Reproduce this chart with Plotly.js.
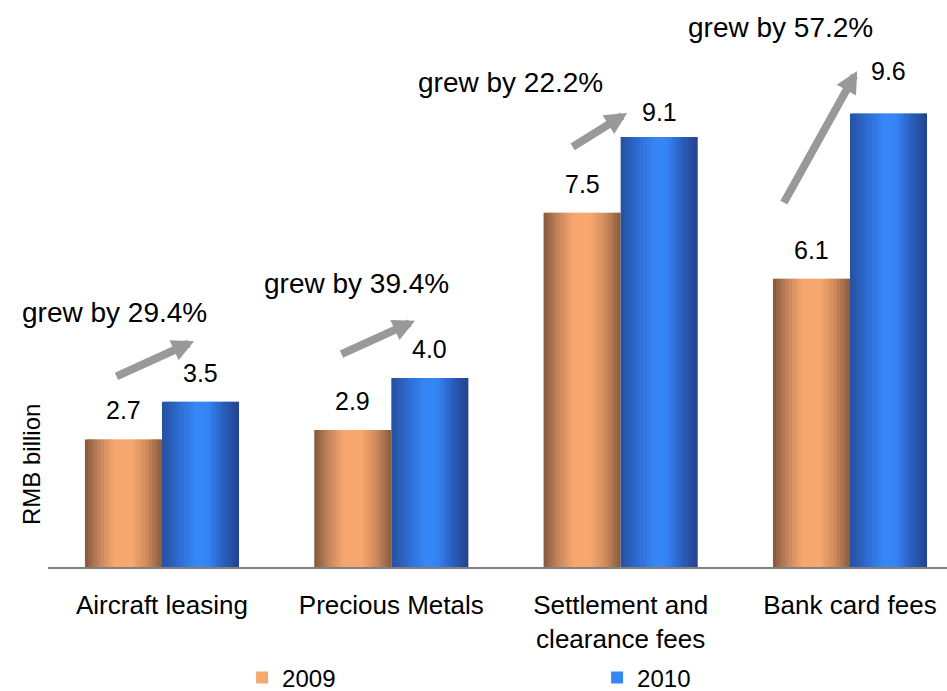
<!DOCTYPE html>
<html>
<head>
<meta charset="utf-8">
<script src="https://cdn.plot.ly/plotly-3.0.1.min.js"></script>
<style>html,body{margin:0;padding:0;background:#fff;}#chart{width:947px;height:691px;}</style>
</head>
<body>
<div id="chart"></div>
<script>
// ---- data ----
const categories = ['Aircraft leasing', 'Precious Metals', 'Settlement and<br>clearance fees', 'Bank card fees'];
const seriesNames = ['2009', '2010'];
const values2009 = [2.7, 2.9, 7.5, 6.1];
const values2010 = [3.5, 4.0, 9.1, 9.6];
const growthLabels = ['grew by 29.4%', 'grew by 39.4%', 'grew by 22.2%', 'grew by 57.2%'];

// ---- annotation placement (data units, relative to category index) ----
const arrowTailDx = [-0.205, -0.224, -0.216, -0.292];
const arrowTailY  = [4.02, 4.49, 8.87, 7.68];
const arrowTipDx  = [0.140, 0.103, 0.028, 0.031];
const arrowTipY   = [4.78, 5.21, 9.61, 10.50];
const growthDx    = [-0.209, -0.154, -0.482, -0.305];
const growthY     = [5.38, 6.0, 10.25, 11.42];
const labelLift   = [29, 29, 29, 29];
const labelLift10 = [29, 29, 25, 42];

// ---- styles ----
const FONT = 'Liberation Sans, Arial, sans-serif';
const BARW = 0.336;
const PX_PER_CAT = 229.3;
const NSTRIPE = 24;
const orangeStops = [[0,'#85573a'],[0.18,'#c2845b'],[0.38,'#f6a66e'],[0.6,'#f8a96f'],[0.8,'#d08c5d'],[1,'#875a3b']];
const blueStops   = [[0,'#26509e'],[0.2,'#2d69cd'],[0.45,'#3787f8'],[0.6,'#3584f4'],[0.8,'#2a5ebd'],[1,'#21438a']];

function hex2rgb(h){return [parseInt(h.slice(1,3),16),parseInt(h.slice(3,5),16),parseInt(h.slice(5,7),16)];}
function gradColor(stops, t){
  for(let i=1;i<stops.length;i++){
    if(t<=stops[i][0]){
      const a=stops[i-1], b=stops[i];
      const f=(t-a[0])/(b[0]-a[0]);
      const ca=hex2rgb(a[1]), cb=hex2rgb(b[1]);
      return 'rgb('+ca.map((v,k)=>Math.round(v+(cb[k]-v)*f)).join(',')+')';
    }
  }
  return stops[stops.length-1][1];
}

const traces = [];
function addSeries(vals, name, stops, baseOffset){
  const sw = BARW / NSTRIPE;
  for(let k=0;k<NSTRIPE;k++){
    const t = (k+0.5)/NSTRIPE;
    const isLegend = (k === Math.floor(NSTRIPE/2));
    traces.push({
      type:'bar', x: categories, y: vals, name: name,
      offset: baseOffset + k*sw,
      width: (k === NSTRIPE-1) ? sw : sw*1.6,
      marker:{color: gradColor(stops, t), line:{width:0}},
      showlegend: isLegend, legendgroup: name, hoverinfo:'skip'
    });
  }
}
addSeries(values2009, seriesNames[0], orangeStops, -BARW);
addSeries(values2010, seriesNames[1], blueStops, 0);

const annotations = [];
categories.forEach((c,i)=>{
  annotations.push({x:c, y:values2009[i], xshift:-BARW/2*PX_PER_CAT, yshift:labelLift[i], text:values2009[i].toFixed(1),
    showarrow:false, xanchor:'center', yanchor:'middle', font:{family:FONT,size:25,color:'#000'}});
  annotations.push({x:c, y:values2010[i], xshift:BARW/2*PX_PER_CAT, yshift:labelLift10[i], text:values2010[i].toFixed(1),
    showarrow:false, xanchor:'center', yanchor:'middle', font:{family:FONT,size:25,color:'#000'}});
  annotations.push({x:i+arrowTipDx[i], y:arrowTipY[i], ax:i+arrowTailDx[i], ay:arrowTailY[i],
    axref:'x', ayref:'y', xref:'x', yref:'y', text:'', showarrow:true,
    arrowhead:2, arrowsize:0.55, arrowwidth:8, arrowcolor:'#999999', standoff:0, startstandoff:0});
  annotations.push({x:i+growthDx[i], y:growthY[i], xref:'x', yref:'y', text:growthLabels[i], showarrow:false,
    xanchor:'center', yanchor:'middle', font:{family:FONT,size:28,color:'#000'}});
});
annotations.push({xref:'paper', yref:'paper', x:-0.0178, y:0.1817, text:'RMB billion', textangle:-90,
  showarrow:false, xanchor:'center', yanchor:'middle', font:{family:FONT,size:24,color:'#000'}});

const layout = {
  width:947, height:691,
  margin:{l:48, r:0, t:0, b:124, autoexpand:false},
  paper_bgcolor:'#fff', plot_bgcolor:'#fff',
  barmode:'overlay',
  font:{family:FONT, color:'#000'},
  xaxis:{type:'category', range:[-0.497, 3.423], showgrid:false, zeroline:false, automargin:false,
    showline:true, linecolor:'#808080', linewidth:1.5, ticks:'', ticklabelstandoff:14,
    tickfont:{family:FONT,size:26,color:'#000'}, fixedrange:true},
  yaxis:{range:[0,12.0], showgrid:false, zeroline:false, showline:false, showticklabels:false, ticks:'', fixedrange:true, automargin:false},
  showlegend:true,
  legend:{orientation:'h', x:0.2159, xanchor:'left', y:-0.1958, yanchor:'middle',
    font:{family:FONT,size:24,color:'#000'}, entrywidth:310, entrywidthmode:'pixels', bgcolor:'rgba(0,0,0,0)'},
  annotations: annotations
};

Plotly.newPlot('chart', traces, layout, {staticPlot:true, displayModeBar:false});
</script>
</body>
</html>
